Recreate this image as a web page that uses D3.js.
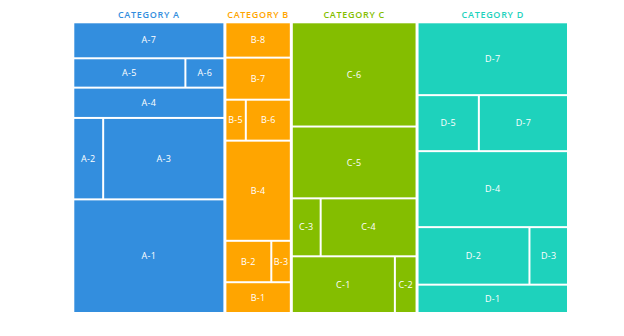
<!DOCTYPE html>
<html>
<head>
<meta charset="utf-8">
<script src="https://cdn.jsdelivr.net/npm/d3@7"></script>
<style>
  html, body { margin: 0; padding: 0; background: #fff; }
  svg { display: block; }
  text { font-family: "Open Sans", "DejaVu Sans", sans-serif; font-weight: 500; }
  text.cat { font-weight: 600; }
</style>
</head>
<body>
<svg id="chart" width="624" height="336"></svg>
<script>
// ---- data ----
const categories = ["CATEGORY A", "CATEGORY B", "CATEGORY C", "CATEGORY D"];
const colors = ["#338ede", "#ffa500", "#84be00", "#1ed2bc"];

const labelsA = ["A-1", "A-2", "A-3", "A-4", "A-5", "A-6", "A-7"];
const valuesA = [120, 17, 69, 32, 23, 8, 38];
const stripsA = [0, 1, 1, 2, 3, 3, 4];

const labelsB = ["B-1", "B-2", "B-3", "B-4", "B-5", "B-6", "B-7", "B-8"];
const valuesB = [14.2, 13.4, 5.7, 46.2, 5.9, 13.0, 19.4, 16.3];
const stripsB = [0, 1, 1, 2, 3, 3, 4, 5];

const labelsC = ["C-1", "C-2", "C-3", "C-4", "C-5", "C-6"];
const valuesC = [40.9, 8.6, 11.7, 38.9, 62.7, 91.0];
const stripsC = [0, 0, 1, 1, 2, 3];

const labelsD = ["D-1", "D-2", "D-3", "D-4", "D-5", "D-7", "D-7"];
const valuesD = [29.8, 45.0, 15.5, 79.9, 24.0, 34.9, 76.6];
const stripsD = [0, 1, 1, 2, 3, 3, 4];

// ---- layout ----
const svg = d3.select("#chart");
const marginLeft = 74.3, marginTop = 23.3, W = 492.7, H = 288.7;

const groups = [
  {labels: labelsA, values: valuesA, strips: stripsA},
  {labels: labelsB, values: valuesB, strips: stripsB},
  {labels: labelsC, values: valuesC, strips: stripsC},
  {labels: labelsD, values: valuesD, strips: stripsD}
];

const rootData = {
  children: categories.map((name, i) => {
    const grp = groups[i];
    const items = grp.labels.map((l, j) => ({name: l, value: grp.values[j], strip: grp.strips[j], cat: i}));
    const rows = d3.groups(items, d => d.strip).map(([k, arr]) => ({strip: k, children: arr}));
    rows.reverse(); // first strip sits at the bottom
    return {name, cat: i, children: rows};
  })
};

const root = d3.hierarchy(rootData).sum(d => d.children ? 0 : d.value);

d3.treemap()
  .size([W, H])
  .tile(d3.treemapSliceDice)
  .paddingInner(d => d.depth === 0 ? 3 : 2)(root);

const g = svg.append("g").attr("transform", `translate(${marginLeft},${marginTop})`);

// category titles
g.selectAll("text.cat")
  .data(root.children)
  .join("text")
  .attr("class", "cat")
  .attr("x", d => (d.x0 + d.x1) / 2)
  .attr("y", -5.6)
  .attr("text-anchor", "middle")
  .attr("font-size", 9)
  .attr("letter-spacing", 0.7)
  .attr("fill", d => colors[d.data.cat])
  .text(d => d.data.name);

const leaves = g.selectAll("g.leaf")
  .data(root.leaves())
  .join("g")
  .attr("class", "leaf");

leaves.append("rect")
  .attr("x", d => d.x0)
  .attr("y", d => d.y0)
  .attr("width", d => d.x1 - d.x0)
  .attr("height", d => d.y1 - d.y0)
  .attr("fill", d => colors[d.data.cat]);

leaves.append("text")
  .attr("x", d => (d.x0 + d.x1) / 2)
  .attr("y", d => (d.y0 + d.y1) / 2)
  .attr("dy", "0.35em")
  .attr("text-anchor", "middle")
  .attr("font-size", 9)
  .attr("letter-spacing", 0.3)
  .attr("fill", "#fff")
  .text(d => d.data.name);
</script>
</body>
</html>
